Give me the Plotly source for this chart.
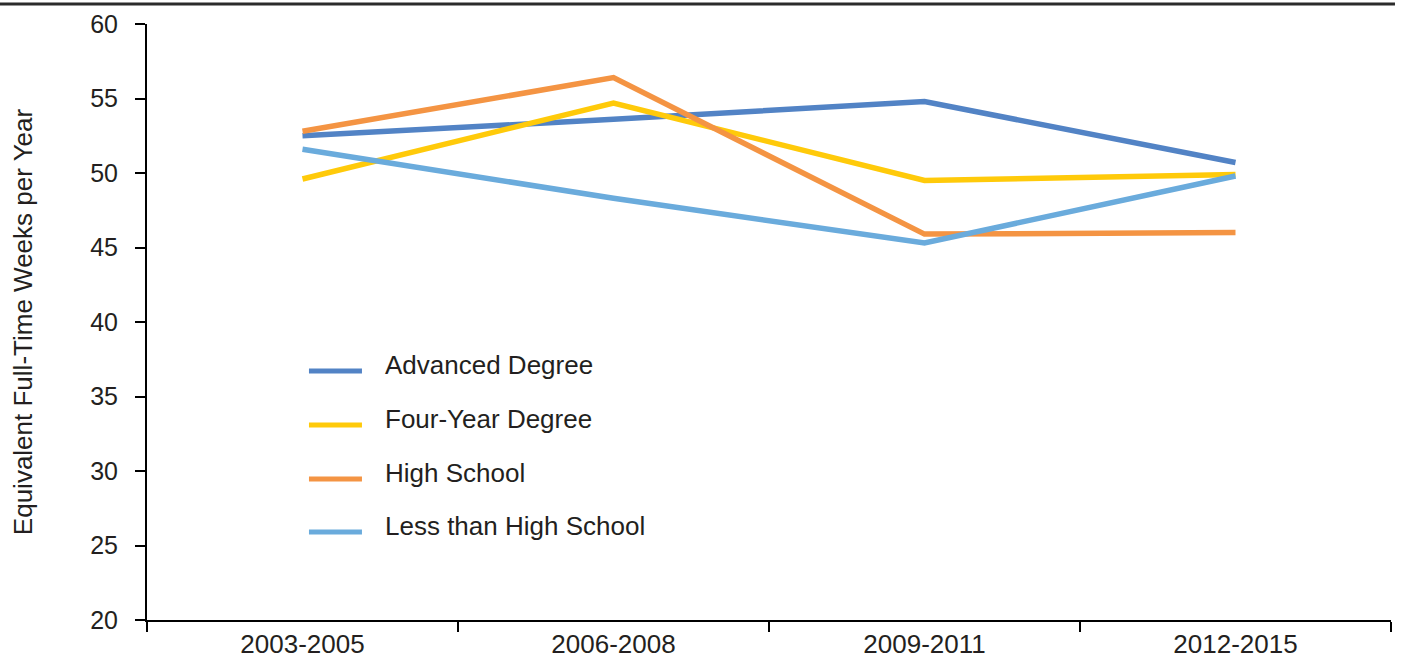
import plotly.graph_objects as go

# Periods on the x axis
periods = ["2003-2005", "2006-2008", "2009-2011", "2012-2015"]

# Equivalent full-time weeks per year by education level
advanced_degree = [52.5, 53.6, 54.8, 50.7]
four_year_degree = [49.6, 54.7, 49.5, 49.9]
high_school = [52.8, 56.4, 45.9, 46.0]
less_than_high_school = [51.6, 48.3, 45.3, 49.8]

series_names = ["Advanced Degree", "Four-Year Degree", "High School", "Less than High School"]
series_values = [advanced_degree, four_year_degree, high_school, less_than_high_school]
series_colors = ["#5283c5", "#ffca0a", "#f49443", "#6aabdc"]

y_ticks = [20, 25, 30, 35, 40, 45, 50, 55, 60]

FONT = "Liberation Sans, Arial, Helvetica, sans-serif"
TEXT = "#231f20"

fig = go.Figure()
for name, vals, color in zip(series_names, series_values, series_colors):
    fig.add_trace(go.Scatter(
        x=periods, y=vals, name=name, mode="lines",
        line=dict(color=color, width=5.5),
        showlegend=False,
    ))

# Hand-drawn legend block inside the plot area
legend_rows_y = [0.4178, 0.3272, 0.2366, 0.1477]
for name, color, ly in zip(series_names, series_colors, legend_rows_y):
    fig.add_shape(type="line", xref="paper", yref="paper",
                  x0=0.1302, x1=0.1728, y0=ly, y1=ly,
                  line=dict(color=color, width=5))
    fig.add_annotation(xref="paper", yref="paper", x=0.1897, y=ly + 0.01,
                       text=name, showarrow=False, xanchor="left", yanchor="middle",
                       font=dict(family=FONT, size=26, color=TEXT))

# Rule across the top of the figure
fig.add_shape(type="line", xref="paper", yref="paper",
              x0=-0.12, x1=1.0032, y0=1.0336, y1=1.0336,
              line=dict(color="#2b2b2b", width=3))

fig.update_layout(
    width=1402, height=658,
    margin=dict(l=147, r=11, t=24, b=38),
    paper_bgcolor="white", plot_bgcolor="white",
    font=dict(family=FONT, size=26, color=TEXT),
    showlegend=False,
)
fig.update_xaxes(
    type="category", range=[-0.5, 3.5], automargin=False,
    showline=True, linecolor="black", linewidth=2,
    ticks="outside", ticklen=10, tickwidth=2, tickcolor="black",
    tickson="boundaries", showgrid=False, zeroline=False,
    ticklabelstandoff=0,
    tickfont=dict(family=FONT, size=26, color=TEXT),
)
fig.update_yaxes(
    range=[20, 60], tickvals=y_ticks, automargin=False,
    showline=True, linecolor="black", linewidth=2,
    ticks="outside", ticklen=10, tickwidth=2, tickcolor="black",
    showgrid=False, zeroline=False,
    ticklabelstandoff=12,
    tickfont=dict(family=FONT, size=25, color=TEXT),
    title=dict(text="Equivalent Full-Time Weeks per Year", standoff=50,
               font=dict(family=FONT, size=26, color=TEXT)),
)

fig.write_html("out.html")
